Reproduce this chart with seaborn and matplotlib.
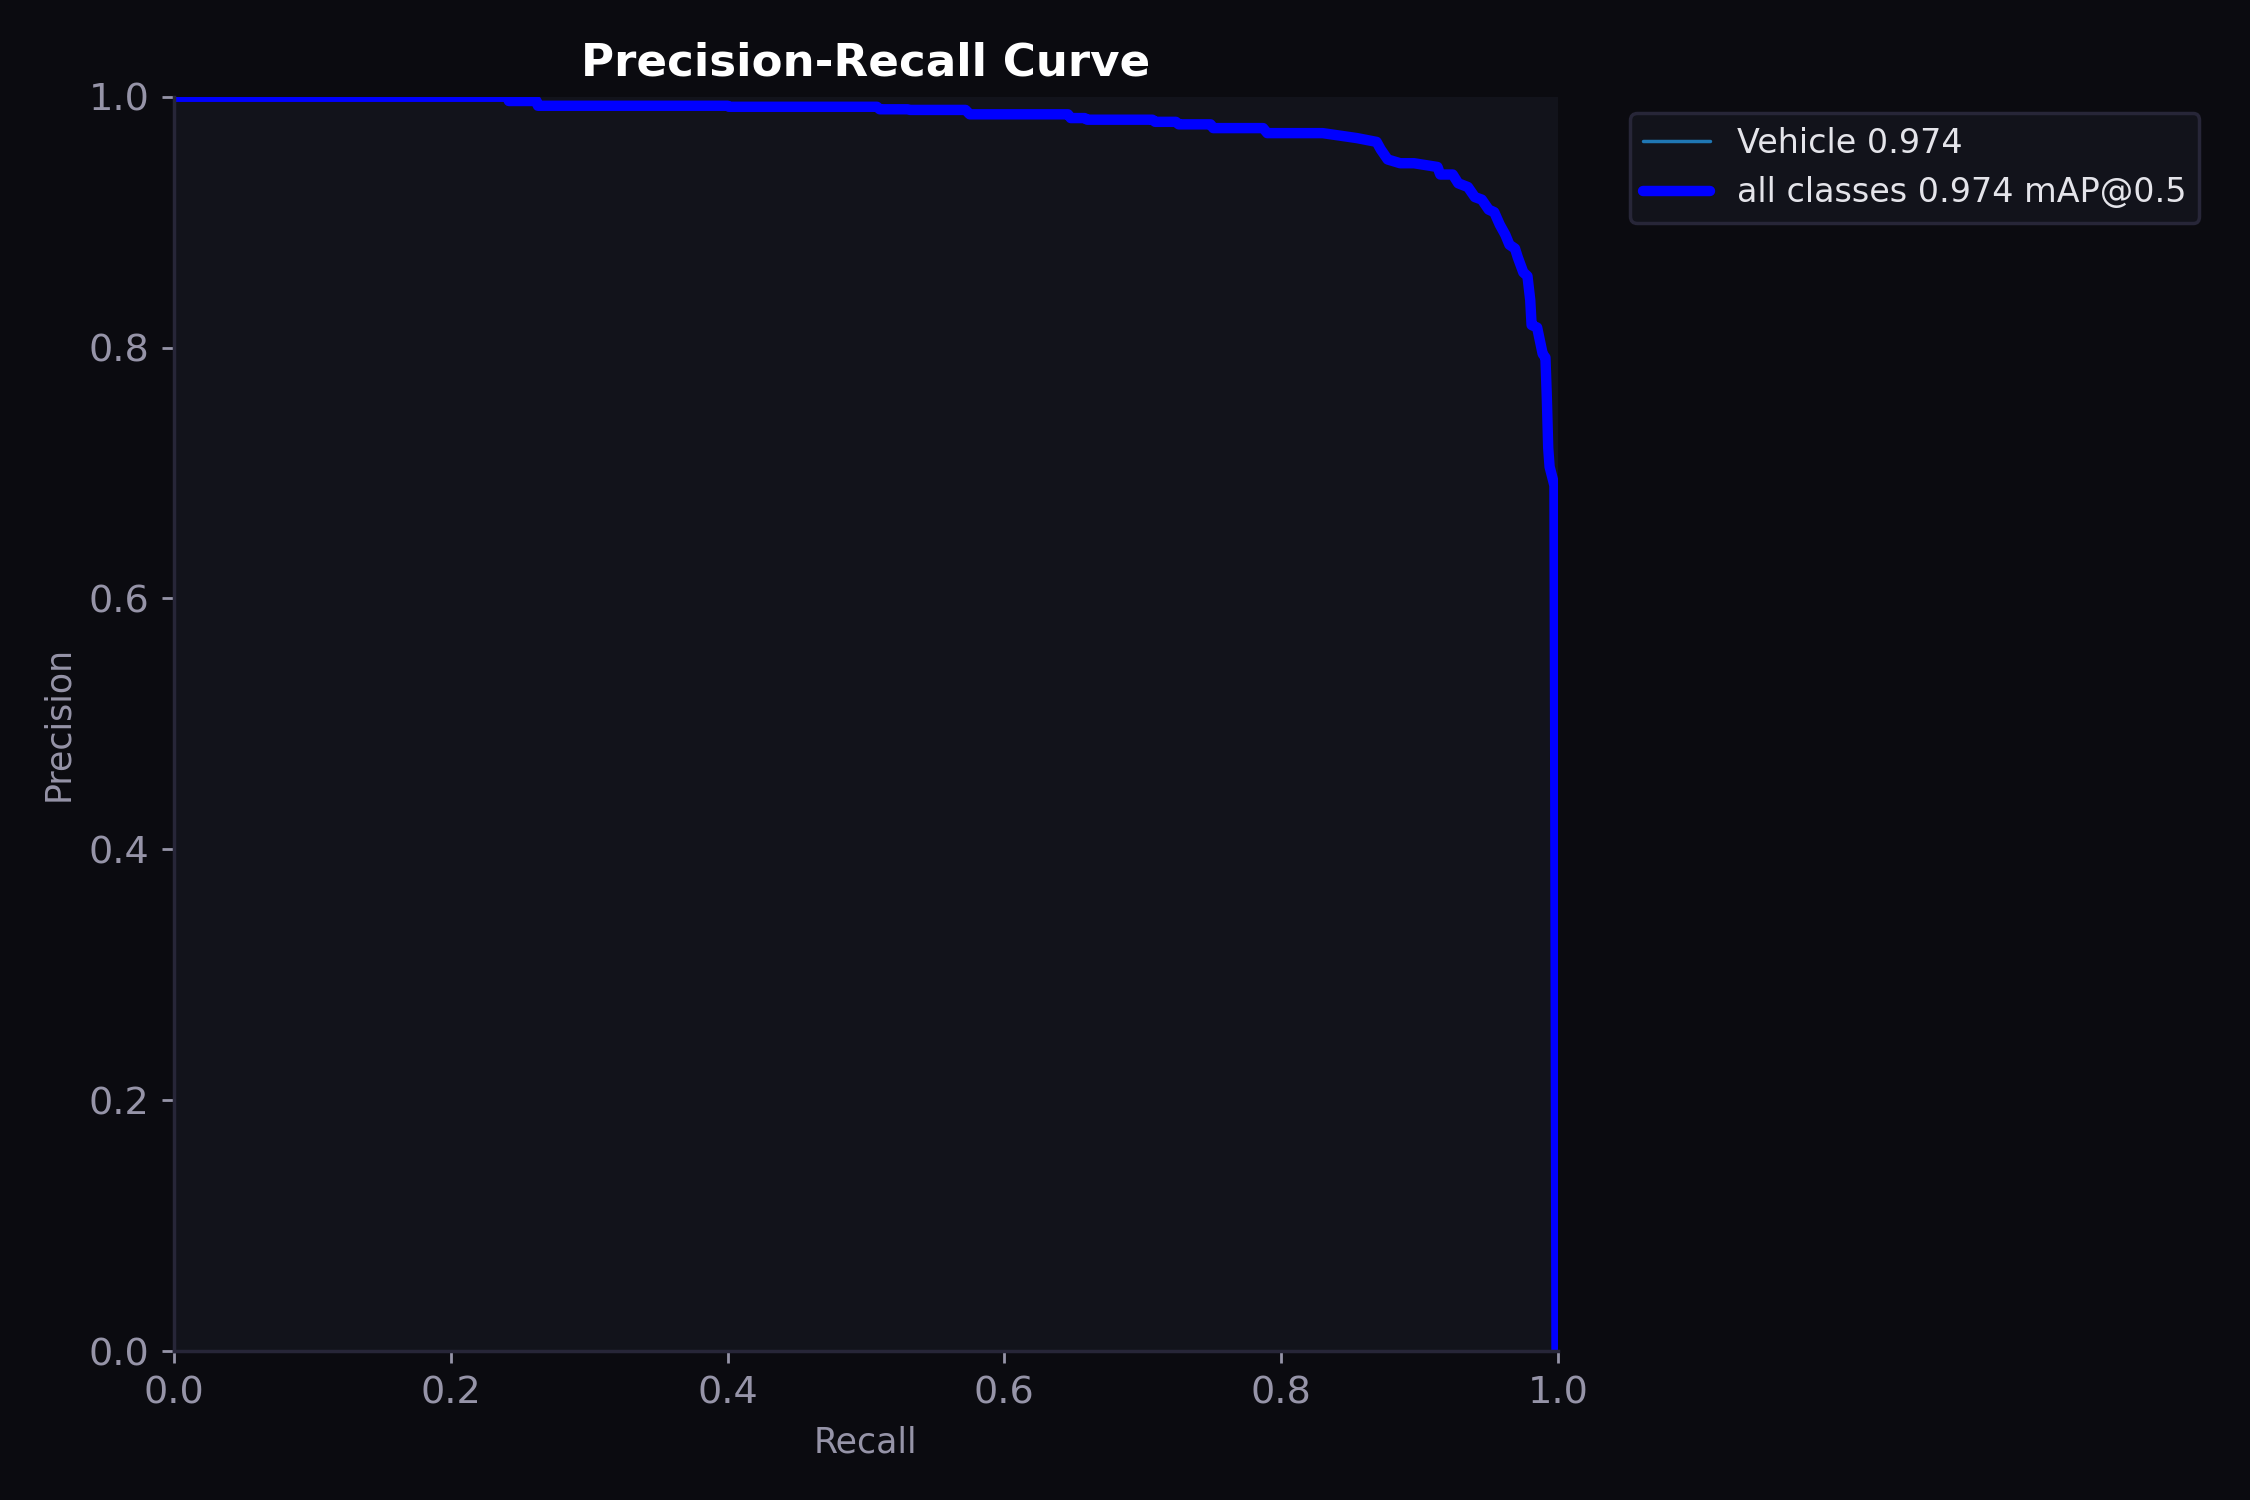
import numpy as np
import pandas as pd
import matplotlib
matplotlib.use("Agg")
import matplotlib.pyplot as plt
import seaborn as sns

# ---------------------------------- Data -----------------------------------------

recall = [0.0, 0.241, 0.242, 0.262, 0.263, 0.400, 0.401, 0.508, 0.510, 0.530,
          0.532, 0.572, 0.575, 0.646, 0.648, 0.658, 0.660, 0.707, 0.709, 0.724,
          0.726, 0.749, 0.751, 0.787, 0.790, 0.830, 0.855, 0.869, 0.872, 0.877,
          0.886, 0.896, 0.913, 0.915, 0.924, 0.928, 0.935, 0.940, 0.945, 0.950,
          0.954, 0.958, 0.962, 0.965, 0.969, 0.971, 0.975, 0.978, 0.980, 0.981,
          0.985, 0.989, 0.991, 0.992, 0.993, 0.994, 0.9975, 0.998, 0.999]
precision = [1.0, 1.0, 0.9966, 0.9966, 0.9928, 0.9928, 0.992, 0.992, 0.990, 0.990,
             0.9895, 0.9895, 0.986, 0.986, 0.983, 0.983, 0.9817, 0.9817, 0.980, 0.980,
             0.978, 0.978, 0.975, 0.975, 0.971, 0.971, 0.967, 0.964, 0.958, 0.950,
             0.947, 0.947, 0.944, 0.938, 0.938, 0.931, 0.928, 0.920, 0.918, 0.910,
             0.908, 0.898, 0.890, 0.882, 0.879, 0.872, 0.860, 0.857, 0.838, 0.818,
             0.816, 0.795, 0.792, 0.760, 0.720, 0.705, 0.690, 0.500, 0.0]

class_name = "Vehicle"
class_ap = 0.974
map50 = 0.974

df = pd.DataFrame({"Recall": recall, "Precision": precision})

# ---------------------------------- Styling -----------------------------------------

fig_bg = "#0b0b10"
ax_bg = "#12131b"
spine_col = "#272638"
tick_col = "#9694a8"

sns.set_style("dark")
plt.rcParams["font.family"] = ["DejaVu Sans"]

fig, ax = plt.subplots(figsize=(9, 6), dpi=250)
fig.patch.set_facecolor(fig_bg)
ax.set_facecolor(ax_bg)

# ---------------------------------- Plot -----------------------------------------

sns.lineplot(data=df, x="Recall", y="Precision", ax=ax, sort=False, estimator=None,
             color="tab:blue", linewidth=1, label=f"{class_name} {class_ap:.3f}")
sns.lineplot(data=df, x="Recall", y="Precision", ax=ax, sort=False, estimator=None,
             color="blue", linewidth=3, label=f"all classes {map50:.3f} mAP@0.5")

ax.set_xlim(0, 1)
ax.set_ylim(0, 1)
ax.set_xticks(np.arange(0, 1.01, 0.2))
ax.set_yticks(np.arange(0, 1.01, 0.2))
ax.grid(False)

for side in ["top", "right"]:
    ax.spines[side].set_visible(False)
for side in ["left", "bottom"]:
    ax.spines[side].set_visible(True)
    ax.spines[side].set_color(spine_col)
    ax.spines[side].set_linewidth(1)

ax.tick_params(axis="both", colors=tick_col, labelsize=11, length=3.5, width=0.8,
               bottom=True, left=True, direction="out")
ax.set_xlabel("Recall", color=tick_col, fontsize=10)
ax.set_ylabel("Precision", color=tick_col, fontsize=10)
ax.set_title("Precision-Recall Curve", color="white", fontsize=13, fontweight="bold")

leg = ax.legend(bbox_to_anchor=(1.04, 1), loc="upper left", fontsize=9.6,
                facecolor=ax_bg, edgecolor=spine_col, framealpha=1)
for t in leg.get_texts():
    t.set_color("#e4e4ea")

fig.subplots_adjust(left=0.0773, right=0.6924, top=0.9355, bottom=0.0993)
fig.savefig("out.png", dpi=250, facecolor=fig_bg)
